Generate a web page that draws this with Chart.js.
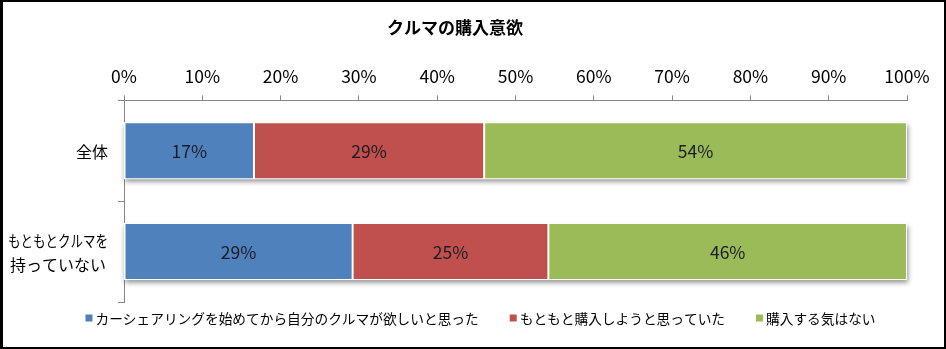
<!DOCTYPE html>
<html lang="ja">
<head>
<meta charset="utf-8">
<script src="https://cdn.jsdelivr.net/npm/chart.js@4.4.1/dist/chart.umd.min.js"></script>
<style>
  html, body { margin: 0; padding: 0; background: #fff; }
  #frame {
    width: 946px; height: 349px; box-sizing: border-box;
    border: 2px solid #000; border-left-width: 3px; background: #fff;
  }
  canvas { display: block; }
</style>
</head>
<body>
<div id="frame"><canvas id="chart" width="941" height="345"></canvas></div>
<script>
const FONT = '"Noto Sans CJK JP", "Noto Sans", sans-serif';

// Respondent groups (one bar each)
const categories = [['全体'], ['もともとクルマを', '持っていない']];

// Answer shares in percent, one array per answer
const seriesNames = [
  'カーシェアリングを始めてから自分のクルマが欲しいと思った',
  'もともと購入しようと思っていた',
  '購入する気はない'
];
const wantedOwnCar = [16.6, 29.2];
const plannedAnyway = [29.4, 25.0];
const noIntent = [54.0, 45.8];

// Top axis tick labels
const tickLabels = ['0%', '10%', '20%', '30%', '40%', '50%', '60%', '70%', '80%', '90%', '100%'];

const seriesColors = ['#4F81BD', '#C0504D', '#9BBB59'];
const axisColor = '#868686';

// Soft drop shadow under each stacked bar
const barShadow = {
  id: 'barShadow',
  beforeDatasetsDraw(chart) {
    const ctx = chart.ctx, xs = chart.scales.x;
    const last = chart.getDatasetMeta(chart.data.datasets.length - 1);
    ctx.save();
    ctx.shadowColor = 'rgba(0,0,0,0.45)';
    ctx.shadowBlur = 5;
    ctx.shadowOffsetX = 1;
    ctx.shadowOffsetY = 3;
    ctx.fillStyle = '#fff';
    last.data.forEach((bar) => {
      const p = bar.getProps(['x', 'y', 'height'], true);
      const left = xs.getPixelForValue(0);
      ctx.fillRect(left, p.y - p.height / 2, p.x - left, p.height);
    });
    ctx.restore();
  }
};

// Percentage printed in the middle of each segment
const valueLabels = {
  id: 'valueLabels',
  afterDatasetsDraw(chart) {
    const ctx = chart.ctx;
    ctx.save();
    ctx.font = '17.5px ' + FONT;
    ctx.fillStyle = '#1c1c24';
    ctx.textAlign = 'center';
    ctx.textBaseline = 'middle';
    chart.data.datasets.forEach((ds, i) => {
      chart.getDatasetMeta(i).data.forEach((bar, j) => {
        const p = bar.getProps(['x', 'base', 'y'], true);
        ctx.fillText(Math.round(ds.data[j]) + '%', (p.x + p.base) / 2, p.y + 1);
      });
    });
    ctx.restore();
  }
};

// Category names, each block right-aligned to the axis with its lines centred
const categoryLabels = {
  id: 'categoryLabels',
  afterDraw(chart) {
    const ctx = chart.ctx, ys = chart.scales.y;
    ctx.save();
    ctx.font = '16px ' + FONT;
    ctx.fillStyle = '#000';
    ctx.textAlign = 'center';
    ctx.textBaseline = 'middle';
    const lineH = 24, maxLine = 100;
    const rightEdge = ys.right - 16;
    categories.forEach((lines, i) => {
      const w = Math.min(maxLine, Math.max(...lines.map(l => ctx.measureText(l).width)));
      const cx = rightEdge - w / 2;
      const cy = ys.getPixelForValue(i) + 1;
      lines.forEach((l, k) => ctx.fillText(l, cx, cy + (k - (lines.length - 1) / 2) * lineH, maxLine));
    });
    ctx.restore();
  }
};

// Legend row under the plot: small squares followed by the answer text
const bottomLegend = {
  id: 'bottomLegend',
  afterDraw(chart) {
    const ctx = chart.ctx;
    ctx.save();
    ctx.font = '13.7px ' + FONT;
    ctx.textBaseline = 'middle';
    ctx.textAlign = 'left';
    const box = 7, boxGap = 3, itemGap = 31;
    const widths = chart.data.datasets.map(ds => box + boxGap + ctx.measureText(ds.label).width);
    const total = widths.reduce((a, b) => a + b, 0) + itemGap * (widths.length - 1);
    let x = chart.width / 2 + 7 - total / 2;
    const y = 316;
    chart.data.datasets.forEach((ds, i) => {
      ctx.fillStyle = ds.backgroundColor;
      ctx.fillRect(x, y - box / 2, box, box);
      ctx.fillStyle = '#000';
      ctx.fillText(ds.label, x + box + boxGap, y + 1);
      x += widths[i] + itemGap;
    });
    ctx.restore();
  }
};

const seriesData = [wantedOwnCar, plannedAnyway, noIntent];

new Chart(document.getElementById('chart'), {
  type: 'bar',
  data: {
    labels: categories,
    datasets: seriesNames.map((name, i) => ({
      label: name,
      data: seriesData[i],
      backgroundColor: seriesColors[i],
      borderColor: '#ffffff',
      borderWidth: 1,
      borderSkipped: false,
      barPercentage: 0.565,
      categoryPercentage: 1
    }))
  },
  options: {
    indexAxis: 'y',
    responsive: false,
    animation: false,
    devicePixelRatio: 1,
    layout: { padding: { left: 0, right: 37, top: 0, bottom: 45 } },
    plugins: {
      legend: { display: false },
      tooltip: { enabled: false },
      title: {
        display: true,
        text: 'クルマの購入意欲',
        color: '#000',
        font: { family: FONT, size: 17, weight: 'bold' },
        padding: { top: 15, bottom: 19 }
      }
    },
    scales: {
      x: {
        position: 'top',
        stacked: true,
        min: 0,
        max: 100,
        grid: { drawOnChartArea: false, drawTicks: true, tickLength: 5, color: axisColor },
        border: { display: true, color: axisColor, width: 1 },
        ticks: {
          stepSize: 10,
          autoSkip: false,
          maxRotation: 0,
          padding: 9,
          color: '#000',
          font: { family: FONT, size: 17.5 },
          callback: (v, idx) => tickLabels[idx]
        }
      },
      y: {
        stacked: true,
        grid: { offset: true, drawOnChartArea: false, drawTicks: true, tickLength: 6, color: axisColor },
        border: { display: true, color: axisColor, width: 1 },
        ticks: { display: false },
        afterFit(scale) { scale.width = 121; }
      }
    }
  },
  plugins: [barShadow, valueLabels, categoryLabels, bottomLegend]
});
</script>
</body>
</html>
